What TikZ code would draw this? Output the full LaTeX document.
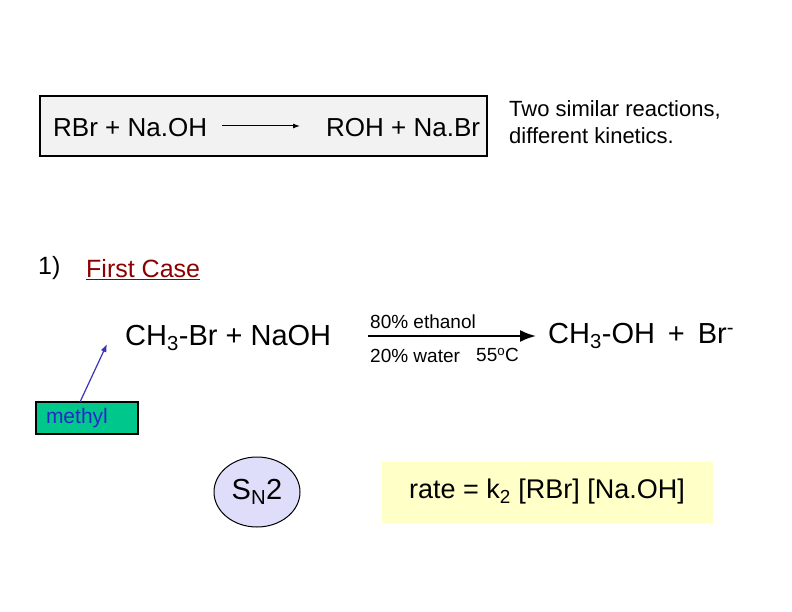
\documentclass[tikz,border=0pt]{standalone}
\usepackage{fontspec}
\setmainfont{Liberation Sans}
\usetikzlibrary{arrows.meta,shapes.geometric}
\definecolor{mefill}{RGB}{0,200,140}
\definecolor{metext}{RGB}{40,40,200}
\definecolor{mearrow}{RGB}{60,50,180}
\definecolor{snfill}{RGB}{222,222,250}
\definecolor{ratefill}{RGB}{255,255,200}
\begin{document}
\begin{tikzpicture}[x=1pt,y=-1pt,
  lbl/.style={inner sep=0pt,anchor=west},
  chem/.style={inner sep=0pt,anchor=west,font=\fontsize{29}{34}\selectfont}]
\useasboundingbox (0,0) rectangle (792,612);
\draw[line width=2pt,fill=gray!10] (40,96) rectangle (487,156);
\node[lbl,font=\fontsize{26}{30}\selectfont] (r1) at (53,128) {RBr + Na.OH};
\node[lbl,font=\fontsize{26}{30}\selectfont] (p1) at (326,128) {ROH + Na.Br};
\coordinate (a1) at (222,126); \coordinate (a2) at (300,126);
\draw[-{Latex[length=7pt,width=5pt]},line width=1pt] (a1) -- (a2);
\node[lbl,align=left,font=\fontsize{22}{27}\selectfont] (two) at (509,122) {Two similar reactions,\\different kinetics.};
\node[lbl,font=\fontsize{25}{30}\selectfont] (one) at (38,268) {1)};
\node[lbl,font=\fontsize{25}{30}\selectfont,text=red!55!black] (fc) at (86,270) {\underline{First Case}};
\node[chem] (lhs) at (125,338) {CH\textsubscript{3}-Br + NaOH};
\node[chem] (rhs) at (548,336) {CH\textsubscript{3}-OH \,+\, Br\textsuperscript{-}};
\coordinate (b1) at (368,336); \coordinate (b2) at (536,336);
\draw[-{Latex[length=16pt,width=12pt]},line width=2pt] (b1) -- (b2);
\node[lbl,font=\fontsize{19}{22}\selectfont] (eth) at (370,322) {80\% ethanol};
\node[lbl,font=\fontsize{19}{22}\selectfont] (wat) at (370,356) {20\% water};
\node[lbl,font=\fontsize{19}{22}\selectfont] (t) at (476,355) {55\textsuperscript{o}C};
\node[draw,line width=1.2pt,fill=mefill,text=metext,
  minimum width=102pt,minimum height=32pt,inner sep=2pt,text width=94pt,align=left,font=\fontsize{21}{24}\selectfont] (me) at (87,418) {\hspace*{6pt}methyl};
\coordinate (mt) at (107,344);
\coordinate (ms) at (80,402);
\draw[-{Latex[length=8pt,width=6pt]},line width=1.2pt,mearrow] (ms) -- (mt);
\node[draw,line width=1pt,fill=snfill,ellipse,minimum width=86pt,minimum height=70pt,inner sep=0pt,font=\fontsize{29}{34}\selectfont] (sn) at (257,492) {S\textsubscript{N}2};
\node[fill=ratefill,minimum width=331pt,minimum height=61pt,font=\fontsize{27}{32}\selectfont] (rate) at (547,492) {rate = k\textsubscript{2} [RBr] [Na.OH]};
\end{tikzpicture}
\end{document}
